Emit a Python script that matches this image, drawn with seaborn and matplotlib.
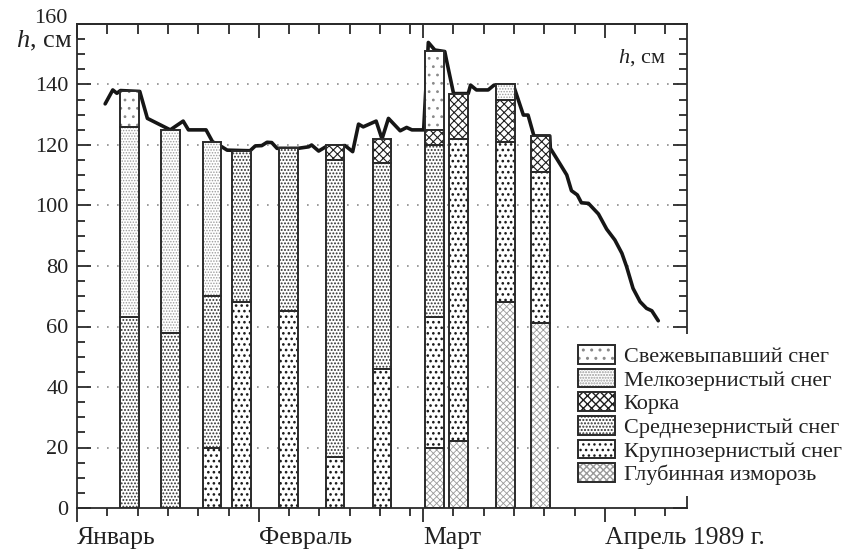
import matplotlib
matplotlib.use("Agg")
import matplotlib.pyplot as plt
import seaborn as sns
import pandas as pd
from matplotlib.patches import Patch
from matplotlib.ticker import MultipleLocator, FixedLocator

# ---------------- data ----------------
# observation dates, days since 1 January 1989
obs_days = [9, 16, 23, 28, 36, 44, 52, 61, 65, 73, 79]
# layer thickness, cm (bottom -> top)
hoar = [0, 0, 0, 0, 0, 0, 0, 20, 22, 68, 61]          # Глубинная изморозь
coarse = [0, 0, 20, 68, 65, 17, 46, 43, 100, 53, 50]  # Крупнозернистый снег
medium = [63, 58, 50, 50, 54, 98, 68, 57, 0, 0, 0]    # Среднезернистый снег
crust = [0, 0, 0, 0, 0, 5, 8, 5, 15, 14, 12]          # Корка
fine = [63, 67, 51, 0, 0, 0, 0, 0, 0, 5, 0]           # Мелкозернистый снег
fresh = [12, 0, 0, 0, 0, 0, 0, 26, 0, 0, 0]           # Свежевыпавший снег

layer_names = ["Глубинная изморозь", "Крупнозернистый снег", "Среднезернистый снег",
               "Корка", "Мелкозернистый снег", "Свежевыпавший снег"]

# snow depth h, cm
depth_day = [4.8, 6.1, 6.8, 7.4, 10.7, 12.0, 15.9, 18.1, 19.0, 22.0, 23.1, 24.7, 25.6,
             29.5, 30.4, 31.5, 32.4, 33.2, 34.1, 37.7, 39.5, 40.0, 41.2, 42.4, 45.7,
             47.0, 48.0, 48.8, 51.0, 52.0, 53.1, 55.1, 56.2, 57.1, 59.1, 59.9, 61.0,
             62.7, 63.0, 64.2, 66.7, 67.1, 68.1, 70.1, 71.1, 74.4, 76.1, 76.9, 77.9,
             80.6, 80.7, 82.3, 83.5, 84.3, 85.3, 86.0, 87.2, 88.9, 90.3, 91.7, 92.9,
             93.7, 94.8, 96.0, 97.1, 98.0, 99.1]
depth_cm = [133.6, 138.2, 137.1, 138.0, 137.7, 128.8, 125.0, 127.9, 125.0, 125.0, 121.1,
            119.4, 118.3, 118.1, 119.7, 119.8, 120.9, 120.8, 118.9, 118.9, 119.4, 120.0,
            118.0, 119.4, 119.8, 117.8, 126.9, 126.0, 127.9, 122.0, 128.8, 124.7, 125.8,
            125.0, 125.0, 153.9, 151.4, 150.9, 148.0, 137.0, 137.0, 139.8, 138.2, 138.2,
            139.8, 139.8, 129.9, 129.9, 123.0, 123.0, 118.9, 113.9, 110.1, 104.9, 103.5,
            100.9, 100.7, 97.2, 92.2, 88.6, 84.2, 79.8, 72.6, 68.2, 66.0, 65.2, 61.9]

month_starts = [0, 31, 59, 90]
month_labels = ["Январь", "Февраль", "Март", "Апрель 1989 г."]
y_major = [0, 20, 40, 60, 80, 100, 120, 140, 160]

# ---------------- style ----------------
sns.set_theme(style="ticks")
plt.rcParams["font.family"] = ["Liberation Serif", "DejaVu Serif"]
plt.rcParams["mathtext.fontset"] = "custom"
plt.rcParams["mathtext.it"] = "Liberation Serif:italic"
plt.rcParams["mathtext.rm"] = "Liberation Serif"

FS = 16
FSX = 18.5
INK = "#222222"
EDGE = "#2a2a2a"
# (hatch, hatch colour, hatch linewidth)
hatch_style = {
    "Глубинная изморозь": ("xxxxx", "#9a9a9a", 0.6),
    "Крупнозернистый снег": ("...", "#1a1a1a", 1.1),
    "Среднезернистый снег": (".....", "#303030", 0.9),
    "Корка": ("xxxx", "#1e1e1e", 0.8),
    "Мелкозернистый снег": ("......", "#9c9c9c", 0.7),
    "Свежевыпавший снег": ("..", "#8a8a8a", 0.8),
}

fig = plt.figure(figsize=(8.48, 5.49), dpi=100)
ax = fig.add_axes([77 / 848, 1 - 508 / 549, 610 / 848, 484 / 549])

# gridlines
for v in y_major[1:-1]:
    ax.axhline(v, color="#8c8c8c", lw=1.2, ls=(0, (1, 5)), zorder=0.5)

# snow depth line
df_line = pd.DataFrame({"day": depth_day, "h": depth_cm})
sns.lineplot(data=df_line, x="day", y="h", ax=ax, color="#161616", lw=2.6,
             estimator=None, sort=False, zorder=1.5)

# stacked hatched bars
layers = [hoar, coarse, medium, crust, fine, fresh]
width = 3.2
bottom = [0] * len(obs_days)
for name, vals in zip(layer_names, layers):
    hatch, hc, hlw = hatch_style[name]
    xs = [d for d, v in zip(obs_days, vals) if v > 0]
    hs = [v for v in vals if v > 0]
    bs = [b for b, v in zip(bottom, vals) if v > 0]
    with plt.rc_context({"hatch.linewidth": hlw}):
        bars = ax.bar(xs, hs, bottom=bs, width=width, color="white", edgecolor=hc,
                      hatch=hatch, linewidth=0, zorder=2)
        for p in bars:
            if hasattr(p, "set_hatch_linewidth"):
                p.set_hatch_linewidth(hlw)
    ax.bar(xs, hs, bottom=bs, width=width, fill=False, edgecolor=EDGE,
           linewidth=1.4, zorder=3)
    bottom = [b + v for b, v in zip(bottom, vals)]

ax.set_xlim(0, 104)
ax.set_ylim(0, 160)
ax.set_xlabel("")
ax.set_ylabel("")

# spines
for s in ax.spines.values():
    s.set_visible(True)
    s.set_linewidth(1.3)
    s.set_color(EDGE)

# y axis ticks (inside, both sides); 160 label drawn a little higher
ax.set_yticks(y_major)
ax.set_yticklabels([str(v) if v != 160 else "" for v in y_major], fontsize=FS, color=INK)
ax.yaxis.set_minor_locator(MultipleLocator(5))
ax.tick_params(axis="y", which="both", direction="in", left=True, right=True,
               color=EDGE, width=1.3)
ax.tick_params(axis="y", which="major", length=10, pad=6)
ax.tick_params(axis="y", which="minor", length=6)
ax.text(-0.015, 161.8, "160", transform=ax.get_yaxis_transform(),
        ha="right", va="center", fontsize=FS, color=INK)

# x axis ticks (bottom outward, top inward)
minor_x = []
for i, m in enumerate(month_starts):
    nxt = month_starts[i + 1] if i + 1 < len(month_starts) else 104
    k = 1
    while m + k * 31 / 6 < nxt - 0.5:
        minor_x.append(m + k * 31 / 6)
        k += 1
ax.set_xticks(month_starts)
ax.set_xticklabels(month_labels, fontsize=FSX, color=INK, ha="left")
ax.xaxis.set_minor_locator(FixedLocator(minor_x))
ax.tick_params(axis="x", which="both", direction="out", bottom=True, top=False,
               color=EDGE, width=1.3)
ax.tick_params(axis="x", which="major", length=10, pad=4)
ax.tick_params(axis="x", which="minor", length=6)

sec = ax.secondary_xaxis("top")
sec.set_xticks(month_starts)
sec.set_xticklabels([])
sec.xaxis.set_minor_locator(FixedLocator(minor_x))
sec.tick_params(axis="x", which="both", direction="in", color=EDGE, width=1.3)
sec.tick_params(axis="x", which="major", length=10)
sec.tick_params(axis="x", which="minor", length=7)
sec.spines["top"].set_linewidth(1.3)
sec.spines["top"].set_color(EDGE)

# axis labels as text
ax.text(-0.008, 154.5, "$h$, см", transform=ax.get_yaxis_transform(),
        ha="right", va="center", fontsize=19, color=INK)
ax.text(100.4, 149, "$h$, см", ha="right", va="center", fontsize=FS, color=INK)

# legend
handles = []
for name in layer_names[::-1]:
    hatch, hc, hlw = hatch_style[name]
    with plt.rc_context({"hatch.linewidth": hlw}):
        hp = Patch(facecolor="white", edgecolor=hc, hatch=hatch, linewidth=0)
        if hasattr(hp, "set_hatch_linewidth"):
            hp.set_hatch_linewidth(hlw)
    handles.append((hp, Patch(fill=False, edgecolor=EDGE, linewidth=1.4)))
leg = ax.legend(handles, layer_names[::-1], loc="upper left",
                bbox_to_anchor=(567 / 848, 1 - 334 / 549), bbox_transform=fig.transFigure,
                fontsize=FS, frameon=True, facecolor="white", edgecolor="none",
                framealpha=1, fancybox=False, borderpad=0.5, borderaxespad=0,
                handlelength=1.65, handleheight=0.9, handletextpad=0.4,
                labelspacing=0.08)
for t in leg.get_texts():
    t.set_color(INK)
leg.set_zorder(10)

fig.savefig("out.png", dpi=100)
